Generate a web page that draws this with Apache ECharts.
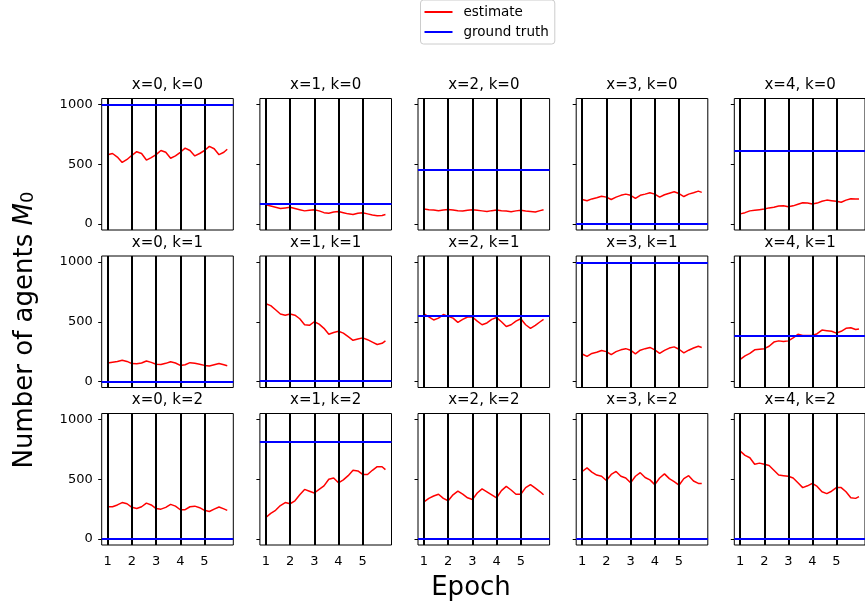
<!DOCTYPE html>
<html>
<head>
<meta charset="utf-8">
<script src="https://cdn.jsdelivr.net/npm/echarts@6/dist/echarts.min.js"></script>
<style>
html,body{margin:0;padding:0;background:#fff;}
#chart{width:865px;height:609px;}
</style>
</head>
<body>
<div id="chart"></div>
<script>
// ---- data ----
const epochX = [1.0,1.2,1.4,1.6,1.8,2.0,2.2,2.4,2.6,2.8,3.0,3.2,3.4,3.6,3.8,4.0,4.2,4.4,4.6,4.8,5.0,5.2,5.4,5.6,5.8,5.94];
const xTicks = [1,2,3,4,5];
const yTicks = [0,500,1000];
const epochBoundaries = [1,2,3,4,5];
const xValues = [0,1,2,3,4];
const kValues = [0,1,2];

const est_x0_k0 = [580,590,560,515,540,575,605,590,535,555,580,615,600,550,570,600,635,615,570,590,615,650,630,580,600,625];
const est_x1_k0 = [160,150,140,130,135,140,130,120,110,115,120,110,95,90,100,105,95,85,80,90,95,85,75,70,72,80];
const est_x2_k0 = [125,120,118,112,118,122,118,112,108,115,120,115,110,105,112,118,112,108,103,110,115,108,105,100,112,120];
const est_x3_k0 = [205,195,210,220,232,225,205,225,240,250,240,215,240,250,262,250,225,245,258,270,255,230,250,262,275,265];
const est_x4_k0 = [85,95,110,115,120,125,135,140,150,152,145,152,165,178,175,168,175,190,200,195,190,182,200,212,210,210];

const est_x0_k1 = [155,162,168,178,168,150,148,155,172,160,145,142,152,166,155,135,140,158,152,145,135,130,140,150,140,132];
const est_x1_k1 = [650,635,600,565,555,565,555,525,475,470,500,480,445,395,410,420,405,375,345,355,365,350,330,310,320,340];
const est_x2_k1 = [565,540,515,530,560,545,530,495,520,540,540,505,475,490,520,535,500,460,475,505,525,475,445,470,500,520];
const est_x3_k1 = [230,210,235,245,260,250,225,250,265,275,262,232,262,275,285,265,235,260,280,290,270,240,262,280,295,285];
const est_x4_k1 = [185,215,235,265,270,275,295,330,340,335,340,365,395,385,385,385,400,430,425,420,405,420,445,450,435,440];

const est_x0_k2 = [270,270,285,305,295,265,255,270,300,285,255,250,265,290,275,245,245,270,275,262,240,230,250,268,252,240];
const est_x1_k2 = [180,215,240,280,305,295,320,370,415,400,385,415,445,500,510,470,495,530,575,570,540,540,575,605,605,580];
const est_x2_k2 = [310,340,360,375,340,320,370,400,375,345,330,385,420,395,370,345,405,440,410,375,375,430,455,425,395,370];
const est_x3_k2 = [565,595,560,535,525,490,540,565,525,510,470,525,555,515,495,455,510,545,505,480,450,505,530,485,465,465];
const est_x4_k2 = [735,700,680,625,635,625,615,575,535,530,525,510,470,430,445,465,440,395,380,400,430,430,395,345,340,355];

const gt_k0 = [1000,172,454,3,613];
const gt_k1 = [0,10,550,990,386];
const gt_k2 = [0,816,2,5,0];

const estimates = [
  [est_x0_k0, est_x1_k0, est_x2_k0, est_x3_k0, est_x4_k0],
  [est_x0_k1, est_x1_k1, est_x2_k1, est_x3_k1, est_x4_k1],
  [est_x0_k2, est_x1_k2, est_x2_k2, est_x3_k2, est_x4_k2]
];
const groundTruth = [gt_k0, gt_k1, gt_k2];

// ---- layout ----
const FONT = 'DejaVu Sans';
const colLeft = [101.7, 259.9, 418.0, 576.2, 734.3];
const rowTop = [98.5, 256, 413.5];
const W = 131.6, H = 131.5;

const grids = [], xAxes = [], yAxes = [], series = [], graphics = [];
let idx = 0;
kValues.forEach((k, r) => {
  xValues.forEach((xv, c) => {
    grids.push({left: colLeft[c], top: rowTop[r], width: W, height: H,
      show: true, borderColor: '#000', borderWidth: 1, backgroundColor: 'transparent', containLabel: false});
    xAxes.push({
      type: 'value', gridIndex: idx, min: 0.753, max: 6.19,
      axisLine: {show: false},
      splitLine: {show: false},
      axisTick: {show: true, customValues: xTicks, length: 3.5, lineStyle: {color: '#000', width: 1}},
      axisLabel: {show: r === 2, customValues: xTicks, formatter: v => String(v),
        fontFamily: FONT, fontSize: 13, color: '#000', margin: 10}
    });
    yAxes.push({
      type: 'value', gridIndex: idx, min: -50, max: 1050,
      axisLine: {show: false},
      splitLine: {show: false},
      axisTick: {show: true, customValues: yTicks, length: 3.5, lineStyle: {color: '#000', width: 1}},
      axisLabel: {show: c === 0, customValues: yTicks, formatter: v => String(v),
        fontFamily: FONT, fontSize: 13, color: '#000', margin: 9}
    });
    // vertical epoch lines
    series.push({
      type: 'line', xAxisIndex: idx, yAxisIndex: idx, data: [], silent: true, z: 2,
      markLine: {silent: true, symbol: 'none', label: {show: false}, animation: false,
        lineStyle: {color: '#000', width: 2, type: 'solid'},
        data: epochBoundaries.map(v => ({xAxis: v}))}
    });
    // ground truth
    series.push({
      name: 'ground truth', type: 'line', xAxisIndex: idx, yAxisIndex: idx, data: [], z: 3,
      itemStyle: {color: '#0000ff'}, lineStyle: {color: '#0000ff', width: 2},
      markLine: {silent: true, symbol: 'none', label: {show: false}, animation: false,
        lineStyle: {color: '#0000ff', width: 2, type: 'solid'},
        data: [{yAxis: groundTruth[r][c]}]}
    });
    // estimate
    const ys = estimates[r][c];
    series.push({
      name: 'estimate', type: 'line', xAxisIndex: idx, yAxisIndex: idx, z: 4,
      data: epochX.map((x, j) => [x, ys[j]]),
      showSymbol: false, symbol: 'none', animation: false,
      itemStyle: {color: '#ff0000'}, lineStyle: {color: '#ff0000', width: 1.5}
    });
    graphics.push({
      type: 'text', x: colLeft[c] + W / 2, y: rowTop[r] - 13,
      style: {text: 'x=' + xv + ', k=' + k, font: '15px "DejaVu Sans"', fill: '#000',
        textAlign: 'center', textVerticalAlign: 'middle'}
    });
    idx++;
  });
});

graphics.push({
  type: 'text', x: 471, y: 588,
  style: {text: 'Epoch', font: '26px "DejaVu Sans"', fill: '#000', textAlign: 'center', textVerticalAlign: 'middle'}
});
graphics.push({
  type: 'text', x: 25, y: 330, rotation: Math.PI / 2,
  style: {
    text: '{a|Number of agents }{m|M}{s|0}',
    textAlign: 'center', textVerticalAlign: 'middle', fill: '#000',
    rich: {
      a: {fontFamily: FONT, fontSize: 26, fill: '#000', verticalAlign: 'bottom', height: 30},
      m: {fontFamily: FONT, fontSize: 26, fontStyle: 'italic', fill: '#000', verticalAlign: 'bottom', height: 30},
      s: {fontFamily: FONT, fontSize: 18, fill: '#000', verticalAlign: 'bottom', height: 24}
    }
  }
});

const chart = echarts.init(document.getElementById('chart'), null, {renderer: 'canvas'});
chart.setOption({
  animation: false,
  backgroundColor: '#fff',
  legend: {
    orient: 'vertical', left: 420.5, top: 0,
    data: [{name: 'estimate', icon: 'rect'}, {name: 'ground truth', icon: 'rect'}],
    itemWidth: 28, itemHeight: 2, itemGap: 4,
    padding: [4, 6, 4, 4],
    borderColor: '#ccc', borderWidth: 1, borderRadius: 3,
    backgroundColor: 'rgba(255,255,255,0.8)',
    textStyle: {fontFamily: FONT, fontSize: 13.5, color: '#000', lineHeight: 16, padding: [0, 0, 0, 6]},
    selectedMode: false
  },
  grid: grids,
  xAxis: xAxes,
  yAxis: yAxes,
  series: series,
  graphic: graphics
});
</script>
</body>
</html>
